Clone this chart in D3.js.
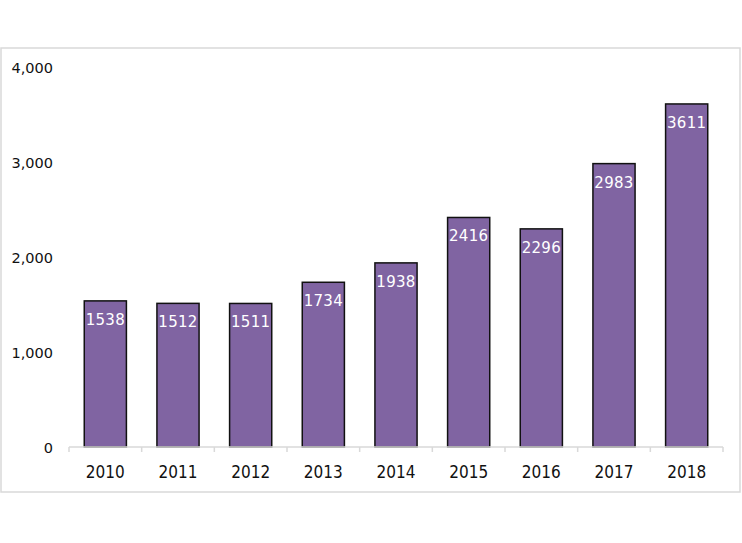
<!DOCTYPE html>
<html><head><meta charset="utf-8">
<script src="https://cdn.jsdelivr.net/npm/d3@7"></script>
<style>body{margin:0;background:#fff}svg{display:block}</style>
</head><body><svg id="c" width="742" height="543"></svg>
<script>
const years = ["2010","2011","2012","2013","2014","2015","2016","2017","2018"];
const values = [1538,1512,1511,1734,1938,2416,2296,2983,3611];
const yTicks = [0,1000,2000,3000,4000];

const svg = d3.select("#c");
svg.append("rect").attr("x",1).attr("y",48).attr("width",739).attr("height",444)
  .attr("fill","#fff").attr("stroke","#d9d9d9").attr("stroke-width",1.5);

const x = d3.scaleBand().domain(years).range([69,723]).paddingInner(0.42).paddingOuter(0.21);
const y = d3.scaleLinear().domain([0,4000]).range([447,67]);

const g = svg.append("g");
g.selectAll("rect.bar").data(values).join("rect").attr("class","bar")
  .attr("x",(d,i)=>x(years[i])).attr("width",x.bandwidth())
  .attr("y",d=>y(d)).attr("height",d=>y(0)-y(d))
  .attr("fill","#8064a2").attr("stroke","#111").attr("stroke-width",1.5);

g.selectAll("text.lbl").data(values).join("text").attr("class","lbl")
  .attr("x",(d,i)=>x(years[i])+x.bandwidth()/2).attr("y",d=>y(d)+24)
  .attr("text-anchor","middle").attr("fill","#fff")
  .style("font-family","'DejaVu Sans'").style("font-size","15px").style("letter-spacing","0.3px")
  .text(d=>d);

// x axis
const xa = svg.append("g").attr("transform","translate(0,447)");
xa.append("line").attr("x1",69).attr("x2",723).attr("stroke","#d9d9d9").attr("stroke-width",1.5);
const bounds = d3.range(years.length+1).map(i=>69+i*(654/years.length));
xa.selectAll("line.t").data(bounds).join("line").attr("class","t")
  .attr("x1",d=>d).attr("x2",d=>d).attr("y1",0).attr("y2",5).attr("stroke","#d9d9d9").attr("stroke-width",1.5);
xa.selectAll("text").data(years).join("text")
  .attr("x",d=>x(d)+x.bandwidth()/2).attr("y",31).attr("text-anchor","middle")
  .attr("fill","#111").style("font-family","'Liberation Sans Narrow','DejaVu Sans Condensed'").style("font-size","17px")
  .text(d=>d);

// y labels
svg.append("g").selectAll("text").data(yTicks).join("text")
  .attr("x",53).attr("y",d=>y(d)+6).attr("text-anchor","end").attr("fill","#111")
  .style("font-family","'DejaVu Sans'").style("font-size","14.5px")
  .text(d=>d3.format(",")(d));
</script></body></html>
